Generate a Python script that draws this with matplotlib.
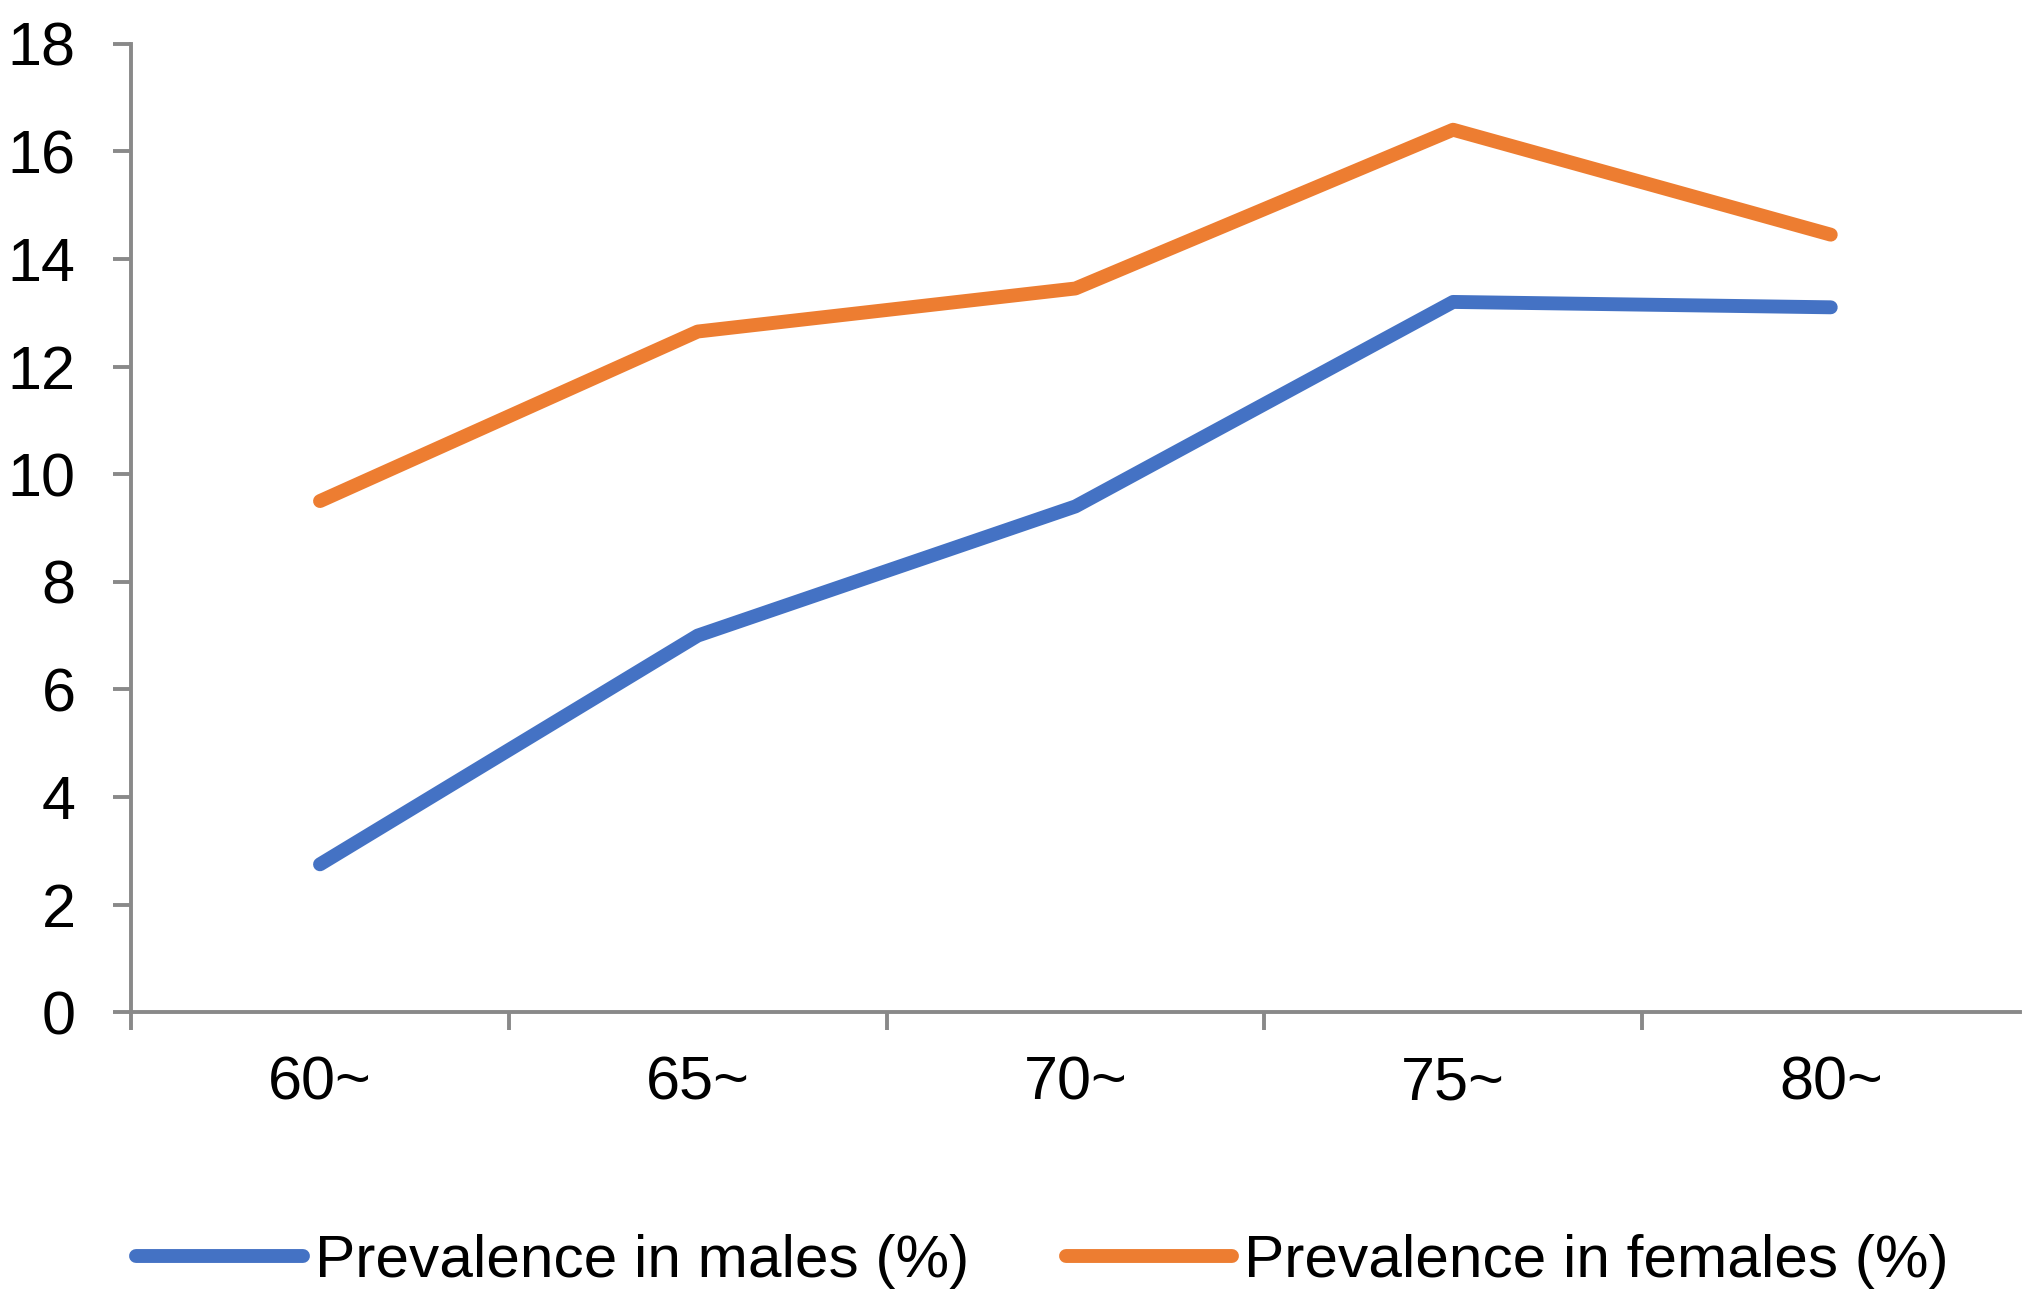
import numpy as np
import matplotlib.pyplot as plt

plt.rcParams['font.family'] = ['Liberation Sans', 'DejaVu Sans']

# Data
age_groups = ['60~', '65~', '70~', '75~', '80~']
males = [2.75, 7.0, 9.4, 13.2, 13.1]
females = [9.5, 12.65, 13.45, 16.4, 14.45]

fig = plt.figure(figsize=(20.4, 13.02), dpi=100)
ax = fig.add_axes([0.0643, 0.2225, 0.9257, 0.7440])

x = np.arange(len(age_groups))
ax.plot(x, males, color='#4472C4', lw=10, solid_capstyle='round',
        solid_joinstyle='round', label='Prevalence in males (%)')
ax.plot(x, females, color='#ED7D31', lw=10, solid_capstyle='round',
        solid_joinstyle='round', label='Prevalence in females (%)')

ax.set_xlim(-0.5, len(age_groups) - 0.5)
ax.set_ylim(0, 18)
ax.set_yticks(np.arange(0, 19, 2))

# category labels centred, tick marks between categories
ax.set_xticks(x)
ax.set_xticklabels(age_groups)
ax.set_xticks(np.arange(-0.5, len(age_groups) - 0.5, 1), minor=True)
ax.tick_params(axis='x', which='major', length=0, pad=31, labelsize=44)
ax.tick_params(axis='x', which='minor', length=13, width=2.8, color='#898989')
ax.tick_params(axis='y', length=13, width=2.8, color='#898989', pad=27, labelsize=44)

for side in ['top', 'right']:
    ax.spines[side].set_visible(False)
for side in ['left', 'bottom']:
    ax.spines[side].set_color('#898989')
    ax.spines[side].set_linewidth(2.8)

fig.legend(loc='center', bbox_to_anchor=(0.511, 0.031), ncol=2, frameon=False,
           fontsize=43.5, handlelength=2.75, handletextpad=0.2, columnspacing=1.6)

fig.savefig('out.png', dpi=100)
